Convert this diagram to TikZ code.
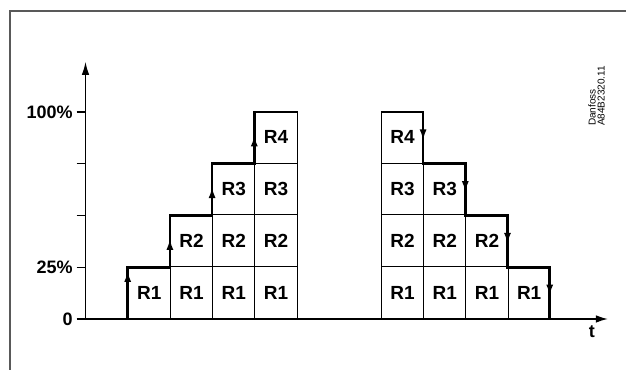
\documentclass[tikz,border=0pt]{standalone}
\usepackage{fontspec}
\setmainfont{Liberation Sans}
\usetikzlibrary{arrows.meta, decorations.markings, positioning}

\tikzset{
  cell/.style={draw, line width=1.1pt, minimum width=42.2pt, minimum height=51.75pt, inner sep=0pt, anchor=south west, font=\fontsize{19}{19}\selectfont\bfseries},
  stair/.style={line width=2.7pt, line join=miter},
  riser/.style={decoration={markings, mark=at position #1 with {\arrow{Latex[length=11pt,width=7pt]}}}, postaction={decorate}},
  axislbl/.style={anchor=east, inner sep=0pt, font=\fontsize{18}{18}\selectfont\bfseries},
}

\begin{document}
\begin{tikzpicture}[x=42.2pt, y=51.75pt]
\useasboundingbox (-2.026,-0.9855) rectangle (12.808,6.164);
% frame
\draw [black!65, line width=1.3pt] (-1.789,-1.1) -- (-1.789,5.952) -- (12.9,5.952);
% axes
\coordinate (O) at (0,0);
\coordinate (xstart) at (-0.21,0);
\coordinate (xend) at (12.38,0);
\coordinate (ytop) at (0,4.97);
\draw [line width=1.4pt, -{Latex[length=12pt,width=7.5pt]}] (xstart) -- (xend);
\draw [line width=1.4pt, -{Latex[length=13pt,width=7.5pt]}] (O) -- (ytop);
\foreach \lev in {1,...,4} \draw [line width=1.1pt] (-0.21,\lev) -- (0,\lev);
\node [axislbl] (p0) at (-0.3,0) {0};
\node [axislbl] (p25) at (-0.3,1) {25\%};
\node [axislbl] (p100) at (-0.3,4) {100\%};
\node [font=\fontsize{18}{18}\selectfont\bfseries, inner sep=0pt] (tlbl) at (12,-0.24) {t};
% switching on
\foreach \c in {1,...,4}
  \foreach \r in {1,...,\c}
    \node [cell] (L\c-\r) at (\c,\r-1) {R\r};
% switching off
\foreach \c [evaluate=\c as \h using int(4-\c)] in {0,...,3}
  \foreach \r in {1,...,\h}
    \node [cell] (S\c-\r) at (7+\c,\r-1) {R\r};
\draw [stair] (0.79,0) -- (1,0) |- (2,1) |- (3,2) |- (4,3) |- (5,4);
\draw [stair, riser=0.93] (1,0) -- (1,1);
\foreach \c in {2,3,4} \draw [stair, riser=0.55] (\c,\c-1) -- (\c,\c);
\draw [stair] (7,4) -- (8,4) |- (9,3) |- (10,2) |- (11,1) |- (11.15,0);
\foreach \c in {8,...,11} \draw [stair, riser=0.55] (\c,12-\c) -- (\c,11-\c);
\node [rotate=90, align=left, inner sep=0pt, font=\fontsize{10}{9}\selectfont] (stamp) at (12.11,4.31) {Danfoss\\A84B2320.11};
\end{tikzpicture}
\end{document}
